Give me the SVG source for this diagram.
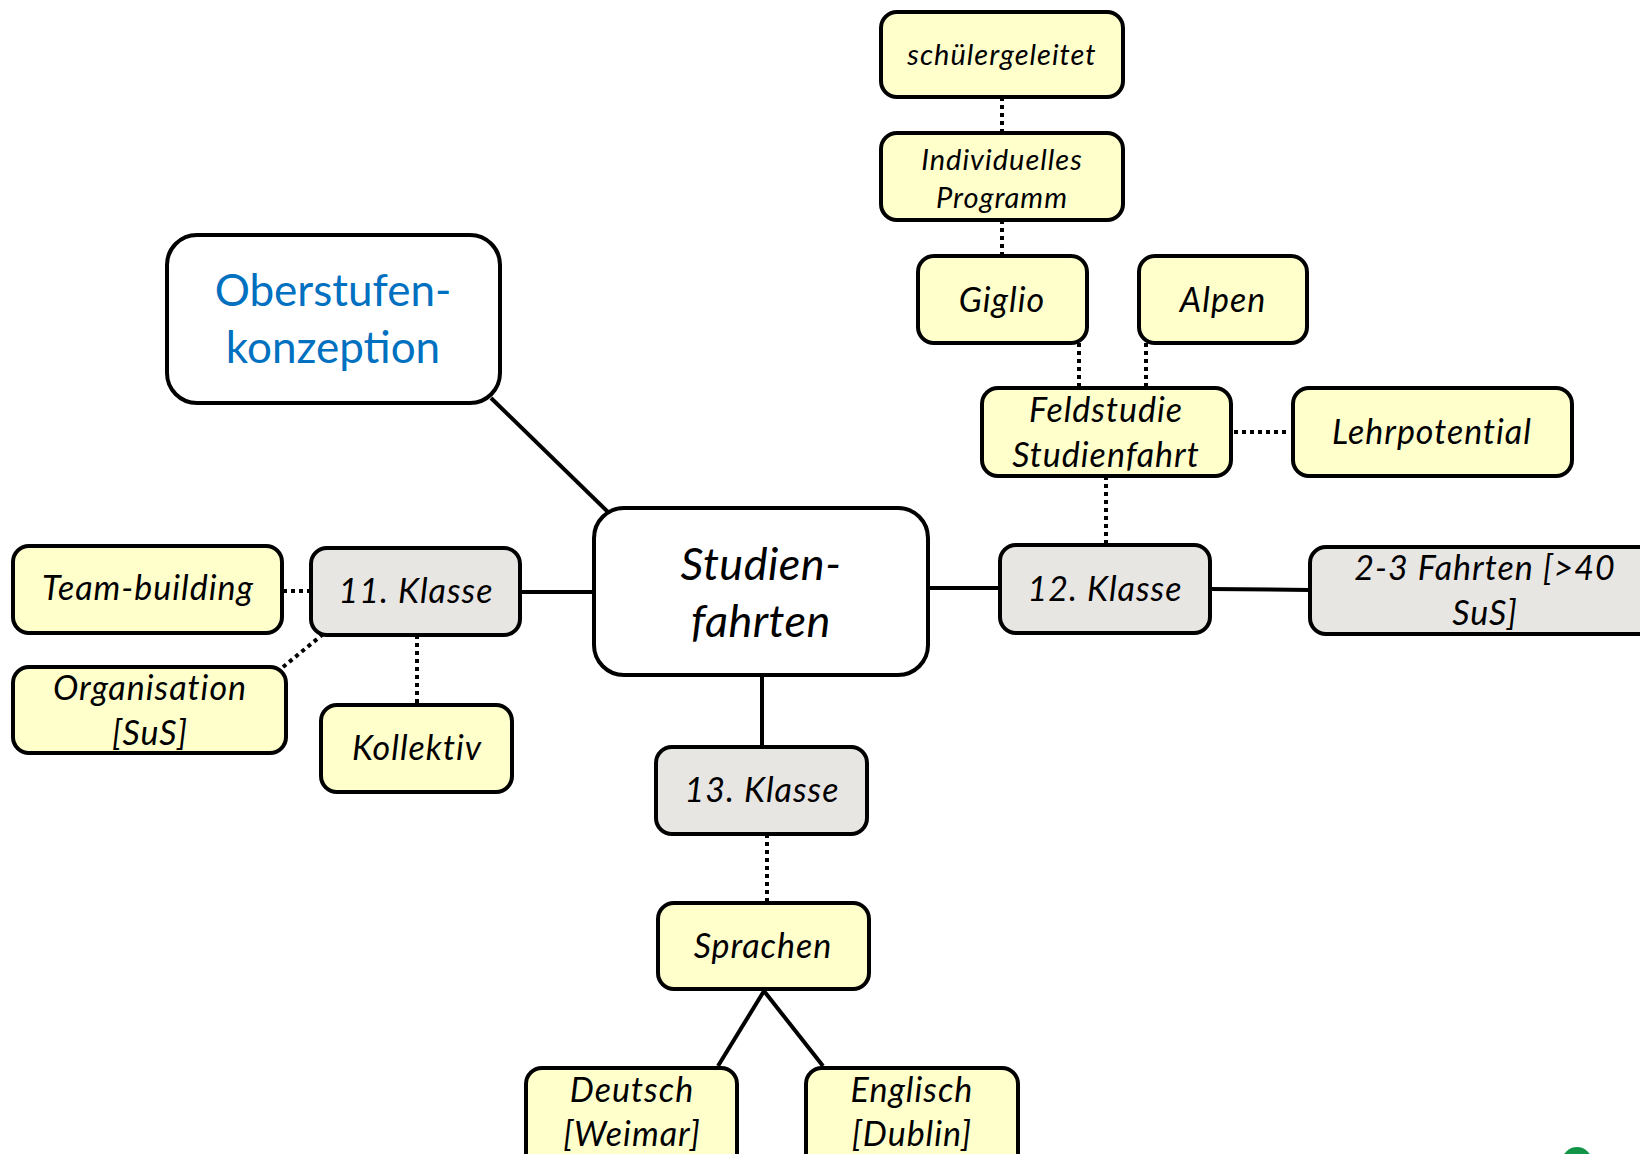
<svg xmlns="http://www.w3.org/2000/svg" width="1640" height="1154" viewBox="0 0 1640 1154">
<style>
.y{fill:#FFFFCC;stroke:#000;stroke-width:4}
.g{fill:#E8E6E3;stroke:#000;stroke-width:4}
.w{fill:#FFFFFF;stroke:#000;stroke-width:4}
.t{font-family:Lato,"Liberation Sans",sans-serif;font-style:italic;font-size:34px;letter-spacing:1px;fill:#000;text-anchor:middle}
.s{font-size:29px}
.big{font-size:45px;letter-spacing:0.5px}
.ob{font-family:Lato,"Liberation Sans",sans-serif;font-size:44px;fill:#0070C0;text-anchor:middle}
.sol{stroke:#000;stroke-width:4;fill:none}
.dot{stroke:#000;stroke-width:4;fill:none;stroke-dasharray:4 4}
</style>
<rect width="1640" height="1154" fill="#FFFFFF"/>
<g id="connectors">
<line class="sol" x1="491" y1="398" x2="609" y2="513"/>
<line class="sol" x1="520" y1="592" x2="594" y2="592"/>
<line class="sol" x1="928" y1="588" x2="1000" y2="588"/>
<line class="sol" x1="1210" y1="589" x2="1310" y2="590"/>
<line class="sol" x1="762" y1="675" x2="762" y2="747"/>
<line class="sol" x1="718" y1="1066" x2="764" y2="991"/>
<line class="sol" x1="764" y1="991" x2="823" y2="1066"/>
<line class="dot" x1="1002" y1="97" x2="1002" y2="133"/>
<line class="dot" x1="1002" y1="220" x2="1002" y2="256"/>
<line class="dot" x1="1079" y1="343" x2="1079" y2="388"/>
<line class="dot" x1="1146" y1="343" x2="1146" y2="388"/>
<line class="dot" x1="1234" y1="432" x2="1290" y2="432"/>
<line class="dot" x1="1106" y1="476" x2="1106" y2="545"/>
<line class="dot" x1="283" y1="591" x2="311" y2="591"/>
<line class="dot" x1="283" y1="667" x2="322" y2="635"/>
<line class="dot" x1="417" y1="635" x2="417" y2="705"/>
<line class="dot" x1="767" y1="834" x2="767" y2="903"/>
</g>
<g id="oberstufen"><rect class="w" x="167" y="235" width="333" height="168" rx="30"/><text class="ob" x="333" y="306">Oberstufen-</text><text class="ob" x="333" y="363">konzeption</text></g>
<g id="studienfahrten"><rect class="w" x="594" y="508" width="334" height="167" rx="30"/><text class="t big" x="761" y="580">Studien-</text><text class="t big" x="761" y="637">fahrten</text></g>
<g id="schuelergeleitet"><rect class="y" x="881" y="12" width="242" height="85" rx="16"/><text class="t s" x="1002" y="65">schülergeleitet</text></g>
<g id="individuelles"><rect class="y" x="881" y="133" width="242" height="87" rx="16"/><text class="t s" x="1002" y="170">Individuelles</text><text class="t s" x="1002" y="208">Programm</text></g>
<g id="giglio"><rect class="y" x="918" y="256" width="169" height="87" rx="16"/><text class="t" x="1002" y="312">Giglio</text></g>
<g id="alpen"><rect class="y" x="1139" y="256" width="168" height="87" rx="16"/><text class="t" x="1223" y="312">Alpen</text></g>
<g id="feldstudie"><rect class="y" x="982" y="388" width="249" height="88" rx="16"/><text class="t" x="1106" y="422">Feldstudie</text><text class="t" x="1106" y="467">Studienfahrt</text></g>
<g id="lehrpotential"><rect class="y" x="1293" y="388" width="279" height="88" rx="16"/><text class="t" x="1432" y="444">Lehrpotential</text></g>
<g id="klasse12"><rect class="g" x="1000" y="545" width="210" height="88" rx="16"/><text class="t" x="1105" y="601">12. Klasse</text></g>
<g id="fahrten"><rect class="g" x="1310" y="547" width="360" height="87" rx="16"/><text class="t" x="1485" y="580">2-3 Fahrten [&gt;40</text><text class="t" x="1485" y="625">SuS]</text></g>
<g id="klasse11"><rect class="g" x="311" y="548" width="209" height="87" rx="16"/><text class="t" x="416" y="603">11. Klasse</text></g>
<g id="teambuilding"><rect class="y" x="13" y="546" width="269" height="87" rx="16"/><text class="t" x="148" y="600">Team-building</text></g>
<g id="organisation"><rect class="y" x="13" y="667" width="273" height="86" rx="16"/><text class="t" x="150" y="700">Organisation</text><text class="t" x="150" y="745">[SuS]</text></g>
<g id="kollektiv"><rect class="y" x="321" y="705" width="191" height="87" rx="16"/><text class="t" x="417" y="760">Kollektiv</text></g>
<g id="klasse13"><rect class="g" x="656" y="747" width="211" height="87" rx="16"/><text class="t" x="762" y="802">13. Klasse</text></g>
<g id="sprachen"><rect class="y" x="658" y="903" width="211" height="86" rx="16"/><text class="t" x="763" y="958">Sprachen</text></g>
<g id="deutsch"><rect class="y" x="526" y="1068" width="211" height="110" rx="16"/><text class="t" x="632" y="1102">Deutsch</text><text class="t" x="632" y="1146">[Weimar]</text></g>
<g id="englisch"><rect class="y" x="806" y="1068" width="212" height="110" rx="16"/><text class="t" x="912" y="1102">Englisch</text><text class="t" x="912" y="1146">[Dublin]</text></g>
<circle cx="1577" cy="1162" r="15" fill="#119447"/>
</svg>
